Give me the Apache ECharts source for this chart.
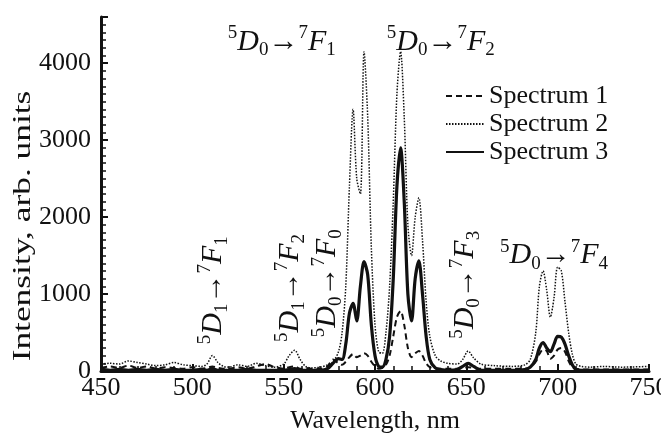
<!DOCTYPE html>
<html>
<head>
<meta charset="utf-8">
<script src="https://cdn.jsdelivr.net/npm/echarts@6/dist/echarts.min.js"></script>
<style>
html, body { margin: 0; padding: 0; background: #fff; }
#chart { width: 661px; height: 436px; }
</style>
</head>
<body>
<div id="chart"></div>
<script>
// wavelength grid, nm
const wavelengths = [450,455,460,465,470,475,480,485,490,495,500,505,508,511,514,517,520,525,530,535,540,545,550,553,556,559,562,565,570,574,577,580,582,584,586,588,590,592,594,596,598,600,602,604,606,608,610,612,614,616,618,620,622,624,626,628,630,633,636,640,645,648,651,654,658,665,675,682,685,688,690,692,694,696,698,700,702,704,706,708,710,713,718,725,735,750];

const spectrum1 = [40,60,40,70,40,60,30,50,40,30,50,30,40,60,40,30,30,50,30,60,90,50,30,50,60,30,40,30,30,60,150,100,80,120,180,220,180,200,230,200,120,60,30,40,80,200,450,700,780,600,300,180,230,260,200,100,50,30,30,30,30,40,50,40,30,30,30,30,50,120,220,280,260,160,200,280,300,250,130,50,30,20,20,20,20,20];

const spectrum2 = [90,100,90,130,110,90,70,80,110,80,70,60,90,200,110,60,50,80,60,100,70,50,90,200,270,150,60,40,50,80,120,250,500,1100,2400,3400,2500,2300,4150,3300,1600,600,250,230,500,1100,2200,3600,4150,3300,1900,1500,2000,2250,1700,900,450,200,130,100,90,150,260,170,90,70,60,80,150,500,1100,1300,1050,700,950,1350,1300,900,500,220,90,60,50,60,50,60];

const spectrum3 = [20,10,20,10,20,10,20,10,20,10,10,20,10,30,10,10,10,10,20,10,10,10,10,20,30,10,10,10,10,30,100,160,150,350,750,880,650,1100,1420,1250,600,200,60,50,150,450,1200,2400,2900,2200,1000,650,1200,1430,1000,450,150,40,20,10,20,60,100,60,10,10,10,20,50,150,300,370,300,250,350,450,440,350,200,80,20,10,10,10,10,10];

const seriesNames = ['Spectrum 1', 'Spectrum 2', 'Spectrum 3'];

// transition labels: [wavelength, intensity, F index, D index, rotated]
const transitions = [
  [549, 4280, '1', '0', false],
  [636, 4280, '2', '0', false],
  [698, 1500, '4', '0', false],
  [511.4, 1050, '1', '1', true],
  [553.6, 1080, '2', '1', true],
  [573.9, 1140, '0', '0', true],
  [649.4, 1120, '3', '0', true]
];

const yTicks = [0, 1000, 2000, 3000, 4000];

function pairs(ys) {
  return wavelengths.map((w, i) => [w, ys[i]]);
}

const serif = 'Liberation Serif';
const ink = '#111';
const chart = echarts.init(document.getElementById('chart'));

const labelRich = {
  sup: { fontFamily: serif, fontSize: 19, color: ink, verticalAlign: 'top', lineHeight: 18 },
  it: { fontFamily: serif, fontSize: 30, fontStyle: 'italic', color: ink, lineHeight: 36 },
  sub: { fontFamily: serif, fontSize: 19, color: ink, verticalAlign: 'bottom', lineHeight: 22 },
  ar: { fontFamily: serif, fontSize: 30, color: ink, lineHeight: 36 }
};

function transitionText(t) {
  return '{sup|5}{it|D}{sub|' + t[3] + '}{ar|→}{sup|7}{it|F}{sub|' + t[2] + '}';
}

const option = {
  animation: false,
  backgroundColor: '#fff',
  textStyle: { fontFamily: serif, color: ink },
  grid: { left: 101, right: 12, top: 17, bottom: 65, outerBoundsMode: 'none', containLabel: false },
  // y title is drawn stretched along its length, as in the original figure
  graphic: [{
    type: 'text',
    x: 23, y: 226,
    rotation: Math.PI / 2,
    scaleX: 1.36,
    silent: true,
    style: {
      text: 'Intensity, arb. units',
      font: '26px "Liberation Serif"',
      fill: ink,
      textAlign: 'center',
      textVerticalAlign: 'middle'
    }
  }],
  legend: {
    orient: 'vertical',
    left: 440,
    top: 78,
    itemWidth: 38,
    itemHeight: 12,
    itemGap: 2,
    data: seriesNames,
    itemStyle: { opacity: 0 },
    textStyle: { fontFamily: serif, fontSize: 26, color: ink, lineHeight: 26 }
  },
  xAxis: {
    type: 'value',
    min: 450,
    max: 750,
    interval: 50,
    name: 'Wavelength, nm',
    nameLocation: 'middle',
    nameGap: 37,
    nameTextStyle: { fontFamily: serif, fontSize: 26, color: ink },
    axisLine: { lineStyle: { color: ink, width: 3 } },
    axisTick: { inside: true, length: 7, lineStyle: { color: ink, width: 2 } },
    minorTick: { show: true, splitNumber: 5, length: 5, lineStyle: { color: ink, width: 1.5 } },
    axisLabel: { fontFamily: serif, fontSize: 26, color: ink, margin: 4 },
    splitLine: { show: false }
  },
  yAxis: {
    type: 'value',
    min: 0,
    max: 4600,
    interval: 1000,
    axisLine: { show: true, lineStyle: { color: ink, width: 3 } },
    axisTick: { inside: true, length: 7, lineStyle: { color: ink, width: 2 } },
    minorTick: { show: true, splitNumber: 10, length: 5, lineStyle: { color: ink, width: 1.5 } },
    axisLabel: {
      fontFamily: serif, fontSize: 26, color: ink, margin: 10,
      formatter: v => (yTicks.indexOf(v) >= 0 ? String(v) : '')
    },
    splitLine: { show: false }
  },
  series: [
    {
      name: seriesNames[0], type: 'line', data: pairs(spectrum1),
      smooth: 0.3, symbol: 'none', z: 3, color: ink,
      lineStyle: { color: ink, width: 2, type: [6, 4] }
    },
    {
      name: seriesNames[1], type: 'line', data: pairs(spectrum2),
      smooth: 0.3, symbol: 'none', z: 2, color: ink,
      lineStyle: { color: ink, width: 1.5, type: [1.5, 1.5] }
    },
    {
      name: seriesNames[2], type: 'line', data: pairs(spectrum3),
      smooth: 0.3, symbol: 'none', z: 4, color: ink,
      lineStyle: { color: ink, width: 3.2 }
    },
    {
      name: 'transitions', type: 'scatter', silent: true, z: 10,
      symbolSize: 0,
      itemStyle: { opacity: 1, color: ink },
      data: transitions.map(t => ({
        value: [t[0], t[1]],
        label: {
          show: true, position: 'inside', rotate: t[4] ? 90 : 0,
          color: ink, opacity: 1, textBorderWidth: 0,
          formatter: transitionText(t), rich: labelRich
        }
      }))
    }
  ]
};

chart.setOption(option);
</script>
</body>
</html>
